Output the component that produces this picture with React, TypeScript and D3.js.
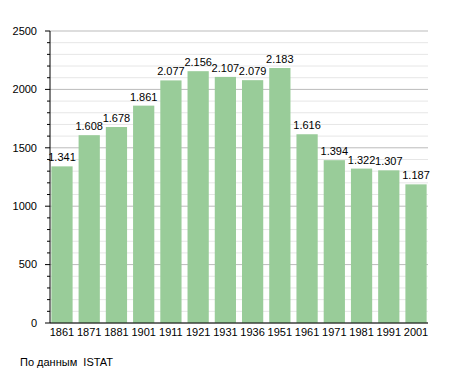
import React from 'react';
import * as d3 from 'd3';

const years = ['1861', '1871', '1881', '1901', '1911', '1921', '1931', '1936', '1951', '1961', '1971', '1981', '1991', '2001'];
const population = [1341, 1608, 1678, 1861, 2077, 2156, 2107, 2079, 2183, 1616, 1394, 1322, 1307, 1187];
const yTicks = [0, 500, 1000, 1500, 2000, 2500];

export default function App() {
  const width = 455;
  const height = 373;
  const margin = { top: 31, right: 27, bottom: 50, left: 50 };
  const innerW = width - margin.left - margin.right;
  const innerH = height - margin.top - margin.bottom;

  const x = d3.scaleBand<string>().domain(years).range([0, innerW]).paddingInner(0.22).paddingOuter(0.05);
  const y = d3.scaleLinear().domain([0, 2500]).range([innerH, 0]);
  const minor = d3.range(0, 2501, 100);
  const fmt = (v: number) => (v / 1000).toFixed(3);

  return (
    <svg width={width} height={height} style={{ position: 'absolute', left: 0, top: 0 }}
      fontFamily="'Liberation Sans', Arial, sans-serif">
      <rect width={width} height={height} fill="#fff" />
      <g transform={`translate(${margin.left},${margin.top})`}>
        {minor.map(v => (
          <line key={'g' + v} x1={0} x2={innerW} y1={y(v)} y2={y(v)}
            stroke={v % 500 === 0 ? '#bbbbbb' : '#e6e6e6'} strokeWidth={1} />
        ))}
        {minor.map(v => (
          <line key={'t' + v} x1={v % 500 === 0 ? -5 : -3} x2={0} y1={y(v)} y2={y(v)} stroke="#000" />
        ))}
        {yTicks.map(v => (
          <text key={'l' + v} x={-13} y={y(v)} dy="0.35em" textAnchor="end" fontSize={11} fill="#000">{v}</text>
        ))}
        {years.map((yr, i) => (
          <g key={yr}>
            <rect x={x(yr)} y={y(population[i])} width={x.bandwidth()} height={innerH - y(population[i])} fill="#99cc99" />
            <text x={(x(yr) ?? 0) + x.bandwidth() / 2} y={y(population[i]) - 5} textAnchor="middle" fontSize={11} fill="#000">
              {fmt(population[i])}
            </text>
            <text x={(x(yr) ?? 0) + x.bandwidth() / 2} y={innerH + 13} textAnchor="middle" fontSize={11} fill="#000">{yr}</text>
          </g>
        ))}
        <line x1={0} x2={0} y1={0} y2={innerH} stroke="#000" />
        <line x1={0} x2={innerW} y1={innerH} y2={innerH} stroke="#000" />
      </g>
      <text x={20} y={366} fontSize={11} fill="#000" style={{ whiteSpace: 'pre' }}>{'По данным  ISTAT'}</text>
    </svg>
  );
}
